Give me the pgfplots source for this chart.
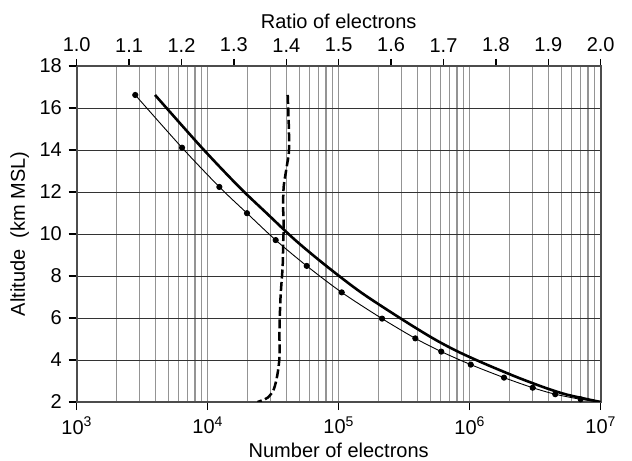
\documentclass[border=0pt]{standalone}
\usepackage{pgfplots}
\pgfplotsset{compat=1.18}
\usepackage{fontspec}
\setmainfont{Liberation Sans}
\begin{document}
\fontsize{20bp}{24bp}\selectfont
\begin{tikzpicture}
\pgfplotsset{
  every axis/.append style={
    scale only axis, width=524bp, height=336bp,
    at={(0,0)}, anchor=south west,
    ymin=2, ymax=18,
    tick align=outside,
    /pgf/number format/assume math mode=true,
    ticklabel style={font=\fontsize{20bp}{24bp}\selectfont},
    label style={font=\fontsize{20bp}{24bp}\selectfont},
    axis line style={line width=1.6bp, draw=black!70},
    every tick/.style={draw=black, line width=1.4bp},
  }
}
\begin{axis}[
  xmode=log, xmin=1e3, xmax=1e7,
  xtick={1e3,1e4,1e5,1e6,1e7},
  xticklabels={10\textsuperscript{3},10\textsuperscript{4},10\textsuperscript{5},10\textsuperscript{6},10\textsuperscript{7}},
  ytick={2,4,...,18},
  xtick pos=bottom, ytick pos=left,
  major tick length=8bp, minor tick length=0pt,
  xminorgrids=true, xmajorgrids=true, ymajorgrids=true,
  minor x grid style={draw=black!42, line width=1.1bp},
  major x grid style={draw=black!42, line width=1.1bp},
  major y grid style={draw=black!80, line width=0.8bp},
  xlabel={Number of electrons},
  ylabel={Altitude\ \ (km MSL)},
  xlabel style={yshift=5bp},
  ylabel style={yshift=-3bp},
]
% thin line with dots
\addplot[black, line width=0.9bp, smooth, mark=*, mark size=2.6bp, mark indices={1,...,15}] coordinates {
(2799,16.62) (6368,14.11) (12274,12.24) (19953,10.99) (33037,9.71)
(57016,8.48) (105440,7.22) (214289,5.97) (384592,5.03) (606736,4.40)
(1018591,3.78) (1828100,3.16) (3026100,2.68) (4497600,2.37) (7030300,2.13)
(10000000,2.0)
};
% thick line
\addplot[black, line width=2.6bp, smooth] coordinates {
(3963,16.62) (9016,14.11) (17378,12.24) (28184,10.99) (46559,9.71)
(80353,8.48) (147911,7.22) (298538,5.97) (524807,5.03) (812831,4.40)
(1348963,3.78) (2344229,3.16) (3758374,2.68) (5370318,2.37) (7943282,2.13)
(10000000,2.0)
};
\end{axis}
\begin{axis}[
  xmin=1, xmax=2,
  axis x line*=top, axis y line=none,
  xtick={1.0,1.1,1.2,1.3,1.4,1.5,1.6,1.7,1.8,1.9,2.0},
  xticklabel style={/pgf/number format/.cd, fixed, fixed zerofill, precision=1},
  major tick length=7bp,
  xlabel={Ratio of electrons},
  xlabel style={yshift=-4bp},
]
\addplot[black, line width=2.5bp, dash pattern=on 9bp off 3.5bp, smooth] coordinates {
(1.4027,16.62) (1.405,14.95) (1.405,13.92) (1.4008,13.2) (1.395,12.25)
(1.394,11.3) (1.395,10.35) (1.394,9.56) (1.393,8.44) (1.389,7.0)
(1.387,5.43) (1.387,4.16) (1.383,3.3) (1.376,2.6) (1.364,2.2) (1.345,2.0)
};
\end{axis}
\pgfresetboundingbox
\path (-76.7bp,-59bp) rectangle (555.3bp,402bp);
\end{tikzpicture}
\end{document}
